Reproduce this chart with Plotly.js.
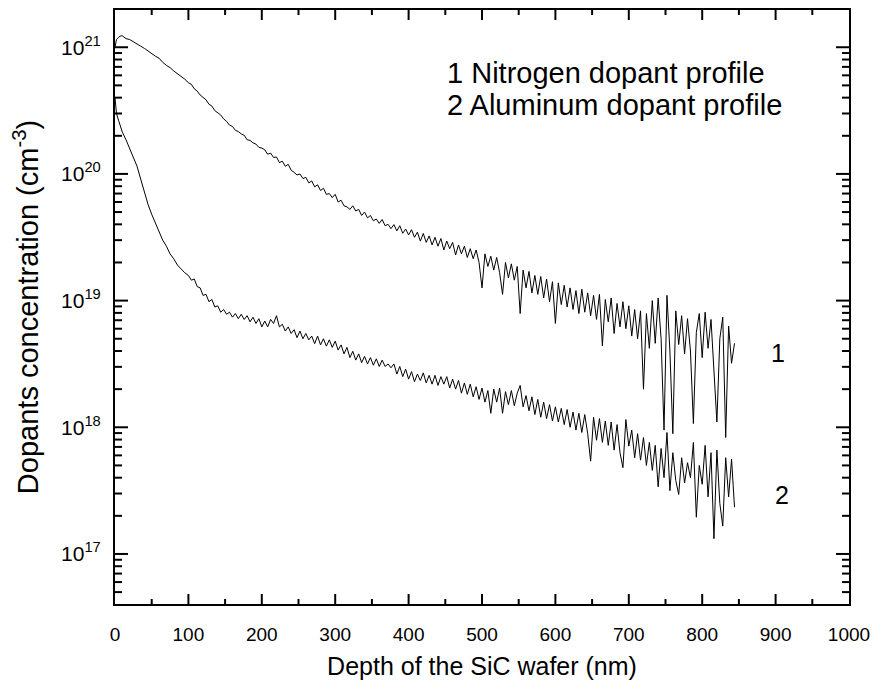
<!DOCTYPE html>
<html>
<head>
<meta charset="utf-8">
<script src="https://cdn.plot.ly/plotly-3.0.1.min.js"></script>
<style>html,body{margin:0;padding:0;background:#fff;}#chart{width:879px;height:690px;}</style>
</head>
<body>
<div id="chart"></div>
<script>
// Depth (nm)
const depth = [0,2,5,8,10,15,20,25,30,35,40,45,50,55,60,65,70,75,80,85,90,95,
100,104,108,112,116,120,124,128,132,136,140,144,148,152,156,160,164,168,172,176,180,184,188,192,196,200,
204,208,212,216,220,224,228,232,236,240,244,248,252,256,260,264,268,272,276,280,284,288,292,296,300,
304,308,312,316,320,324,328,332,336,340,344,348,352,356,360,364,368,372,376,380,384,388,392,396,400,
404,408,412,416,420,424,428,432,436,440,444,448,452,456,460,464,468,472,476,480,484,488,492,496,500,
504,508,512,516,520,524,528,532,536,540,544,548,552,556,560,564,568,572,576,580,584,588,592,596,600,
604,608,612,616,620,624,628,632,636,640,644,648,652,656,660,664,668,672,676,680,684,688,692,696,700,
704,708,712,716,720,724,728,732,736,740,744,748,752,756,760,764,768,772,776,780,784,788,792,796,800,
804,808,812,816,820,824,828,832,836,840,844];

// Series 1: Nitrogen dopant profile (cm^-3)
const nitrogen = [1.00e21,1.15e21,1.20e21,1.23e21,1.23e21,1.17e21,1.15e21,1.10e21,1.05e21,1.02e21,9.8e20,9.3e20,8.9e20,8.5e20,8.2e20,7.6e20,7.2e20,6.9e20,6.5e20,6.2e20,5.9e20,5.6e20,
5.25e20,5.1e20,4.7e20,4.5e20,4.2e20,4.0e20,3.85e20,3.55e20,3.43e20,3.16e20,3.05e20,2.92e20,2.72e20,2.6e20,2.43e20,2.37e20,2.21e20,2.16e20,2.07e20,2.02e20,1.86e20,1.84e20,1.76e20,1.72e20,1.62e20,1.60e20,
1.55e20,1.43e20,1.46e20,1.35e20,1.36e20,1.23e20,1.26e20,1.15e20,1.19e20,1.07e20,1.03e20,9.8e19,1.0e20,9.2e19,9.4e19,8.5e19,8.8e19,7.9e19,8.2e19,7.4e19,7.7e19,6.9e19,7.0e19,6.5e19,6.9e19,
6.0e19,6.2e19,5.6e19,5.5e19,5.25e19,5.6e19,5.1e19,5.25e19,4.7e19,5.0e19,4.5e19,4.7e19,4.27e19,4.4e19,4.07e19,4.37e19,3.9e19,4.0e19,3.7e19,3.98e19,3.55e19,3.9e19,3.4e19,3.67e19,3.3e19,
3.63e19,3.16e19,3.47e19,2.95e19,3.39e19,2.88e19,3.24e19,2.75e19,3.16e19,2.69e19,3.09e19,2.51e19,2.95e19,2.57e19,2.88e19,2.29e19,2.75e19,2.34e19,2.69e19,2.19e19,2.57e19,2.14e19,2.51e19,2.0e19,1.26e19,
2.34e19,1.86e19,2.24e19,1.74e19,2.19e19,1.66e19,1.12e19,2.0e19,1.51e19,1.95e19,1.45e19,1.86e19,7.9e18,1.74e19,1.26e19,1.70e19,1.15e19,1.58e19,1.12e19,1.55e19,1.05e19,1.48e19,9.8e18,1.41e19,6.6e18,
1.38e19,9.3e18,1.32e19,8.9e18,1.26e19,8.5e18,1.20e19,7.9e18,1.23e19,8.1e18,1.15e19,7.6e18,1.10e19,7.1e18,1.12e19,4.4e18,1.02e19,6.8e18,1.05e19,5.5e18,9.5e18,6.2e18,9.8e18,6.0e18,9.1e18,
5.25e18,8.5e18,5.0e18,8.3e18,2.0e18,7.9e18,4.2e18,1.0e19,4.6e18,1.05e19,5.0e18,9.5e17,1.10e19,4.0e18,8.9e17,8.3e18,4.5e18,7.6e18,3.8e18,7.2e18,4.0e18,1.07e18,5.6e18,7.9e18,3.55e18,
8.1e18,4.2e18,7.1e18,2.8e18,1.10e18,5.0e18,7.4e18,8.3e17,6.3e18,3.2e18,4.6e18];

// Series 2: Aluminum dopant profile (cm^-3)
const aluminum = [4.0e20,3.0e20,2.63e20,2.29e20,2.14e20,1.86e20,1.58e20,1.35e20,1.15e20,9.1e19,7.1e19,5.75e19,4.8e19,4.07e19,3.47e19,3.0e19,2.69e19,2.34e19,2.14e19,1.91e19,1.78e19,1.66e19,
1.58e19,1.45e19,1.48e19,1.29e19,1.26e19,1.10e19,1.12e19,9.8e18,1.02e19,8.9e18,9.1e18,8.1e18,8.5e18,7.8e18,8.1e18,7.4e18,7.9e18,7.2e18,7.8e18,7.1e18,7.6e18,6.8e18,7.4e18,6.6e18,7.2e18,6.2e18,
6.9e18,6.2e18,7.1e18,6.6e18,7.6e18,6.2e18,6.5e18,5.75e18,6.2e18,5.5e18,5.9e18,5.1e18,5.75e18,5.0e18,5.5e18,4.9e18,5.25e18,4.57e18,5.25e18,4.47e18,5.0e18,4.37e18,4.9e18,4.27e18,4.79e18,
4.07e18,4.47e18,3.8e18,4.27e18,3.55e18,3.98e18,3.39e18,3.8e18,3.24e18,3.63e18,3.16e18,3.55e18,3.09e18,3.47e18,3.02e18,3.39e18,3.02e18,3.16e18,2.95e18,3.16e18,2.63e18,3.02e18,2.51e18,2.88e18,2.4e18,
2.75e18,2.29e18,2.63e18,2.34e18,2.69e18,2.24e18,2.57e18,2.19e18,2.57e18,2.14e18,2.51e18,2.19e18,2.51e18,2.04e18,2.4e18,2.0e18,2.34e18,1.86e18,2.24e18,1.82e18,2.19e18,1.74e18,2.09e18,1.66e18,2.04e18,
1.58e18,1.95e18,1.29e18,2.0e18,1.58e18,2.04e18,1.29e18,1.91e18,1.51e18,1.95e18,1.48e18,1.86e18,2.14e18,1.45e18,1.78e18,1.35e18,1.74e18,1.26e18,1.66e18,1.20e18,1.58e18,1.17e18,1.51e18,1.12e18,1.45e18,
1.10e18,1.41e18,1.05e18,1.38e18,1.0e18,1.32e18,9.5e17,1.29e18,9.1e17,1.26e18,8.9e17,5.4e17,1.20e18,7.9e17,1.17e18,7.6e17,1.12e18,7.2e17,1.10e18,6.6e17,1.05e18,6.3e17,4.8e17,1.15e18,7.1e17,
9.5e17,5.75e17,8.9e17,5.5e17,8.3e17,5.0e17,7.6e17,4.57e17,7.2e17,3.39e17,6.8e17,4.0e17,9.1e17,3.16e17,6.3e17,3.8e17,2.95e17,5.75e17,3.63e17,5.25e17,4.0e17,7.6e17,1.95e17,5.0e17,3.55e17,
7.2e17,2.82e17,6.3e17,1.32e17,6.6e17,2.51e17,1.66e17,5.75e17,2.82e17,5.6e17,2.34e17];

const xTicks = [0,100,200,300,400,500,600,700,800,900,1000];
const xMinorTicks = [50,150,250,350,450,550,650,750,850,950];
const yTicks = [1e17,1e18,1e19,1e20,1e21];
const yTickText = ['10<sup>17</sup>','10<sup>18</sup>','10<sup>19</sup>','10<sup>20</sup>','10<sup>21</sup>'];
const legendLines = ['1 Nitrogen dopant profile','2 Aluminum dopant profile'];
const curveLabels = ['1','2'];

const xRange = [0, 1000];
const yRange = [16.605, 21.294];

const minorY = [];
for (let e = 16; e <= 21; e++) for (let m = 2; m <= 9; m++) {
  const v = m * Math.pow(10, e);
  if (Math.log10(v) > yRange[0] && Math.log10(v) < yRange[1]) minorY.push(v);
}

const W = 879, H = 690;
const margin = {l:115, r:30, t:10, b:86};
const plotW = W - margin.l - margin.r;
const plotH = H - margin.t - margin.b;
const decPerPx = (yRange[1] - yRange[0]) / plotH;
const nmPerPx = (xRange[1] - xRange[0]) / plotW;

// inside tick marks on all four sides, as line segments on the axis scales
function xTickSegments(vals, lenPx) {
  const xs = [], ys = [], d = lenPx * decPerPx;
  vals.filter(v => v > xRange[0] && v < xRange[1]).forEach(v => {
    xs.push(v, v, null, v, v, null);
    ys.push(Math.pow(10, yRange[0]), Math.pow(10, yRange[0] + d), null,
            Math.pow(10, yRange[1]), Math.pow(10, yRange[1] - d), null);
  });
  return {xs, ys};
}
function yTickSegments(vals, lenPx) {
  const xs = [], ys = [], d = lenPx * nmPerPx;
  vals.forEach(v => {
    xs.push(xRange[0], xRange[0] + d, null, xRange[1], xRange[1] - d, null);
    ys.push(v, v, null, v, v, null);
  });
  return {xs, ys};
}
const tickSets = [xTickSegments(xTicks, 10), xTickSegments(xMinorTicks, 5),
                  yTickSegments(yTicks, 13), yTickSegments(minorY, 7)];

const lineStyle = {color:'#000', width:1};
const traces = [
  {x: depth, y: nitrogen, type:'scatter', mode:'lines', line: lineStyle, name:'Nitrogen', hoverinfo:'skip'},
  {x: depth, y: aluminum, type:'scatter', mode:'lines', line: lineStyle, name:'Aluminum', hoverinfo:'skip'}
].concat(tickSets.map(s => ({x: s.xs, y: s.ys, type:'scatter', mode:'lines', connectgaps:false,
                             line:{color:'#000', width:2}, hoverinfo:'skip', showlegend:false})));

const font = 'Liberation Sans, Arial, sans-serif';
const layout = {
  width: W, height: H,
  margin: margin,
  paper_bgcolor:'#fff', plot_bgcolor:'#fff',
  font: {family: font, color:'#000', size:18},
  showlegend: false,
  xaxis: {
    range:xRange, tickmode:'array', tickvals:xTicks, ticktext:xTicks.map(String),
    ticks:'', showgrid:false, zeroline:false,
    showline:true, linewidth:2, linecolor:'#000', mirror:true,
    tickfont:{size:19, family:font}, ticklabelstandoff:12,
    title:{text:'Depth of the SiC wafer (nm)', font:{size:25, family:font}, standoff:14}
  },
  yaxis: {
    type:'log', range:yRange, tickmode:'array', tickvals:yTicks, ticktext:yTickText,
    ticks:'', showgrid:false, zeroline:false,
    showline:true, linewidth:2, linecolor:'#000', mirror:true,
    tickfont:{size:21, family:font}, ticklabelstandoff:8,
    title:{text:'Dopants concentration (cm<sup>-3</sup>)', font:{size:29, family:font}, standoff:14}
  },
  annotations: [
    {xref:'paper', yref:'paper', x:0.45, y:0.894, xanchor:'left', yanchor:'middle', text:legendLines[0], showarrow:false, font:{size:29, family:font}},
    {xref:'paper', yref:'paper', x:0.45, y:0.840, xanchor:'left', yanchor:'middle', text:legendLines[1], showarrow:false, font:{size:29, family:font}},
    {xref:'paper', yref:'paper', x:0.903, y:0.423, xanchor:'center', yanchor:'middle', text:curveLabels[0], showarrow:false, font:{size:25, family:font}},
    {xref:'paper', yref:'paper', x:0.909, y:0.184, xanchor:'center', yanchor:'middle', text:curveLabels[1], showarrow:false, font:{size:25, family:font}}
  ]
};

Plotly.newPlot('chart', traces, layout, {displayModeBar:false, staticPlot:true});
</script>
</body>
</html>
